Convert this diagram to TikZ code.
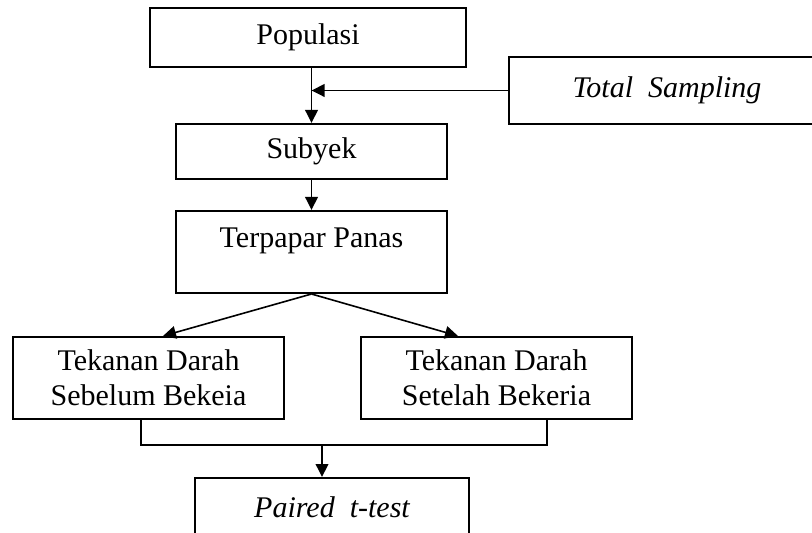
\documentclass[tikz,border=0pt]{standalone}
\usepackage{fontspec}
\setmainfont{Liberation Serif}
\usetikzlibrary{arrows.meta}
\usetikzlibrary{positioning}

\begin{document}
\begin{tikzpicture}[x=0.5pt,y=-0.5pt]
  \tikzset{box/.style = {shape=rectangle,draw,line width=1pt,inner sep=0pt,align=center,font=\fontsize{15}{17.5}\selectfont}}
  \tikzset{wbox/.style = {box,minimum width=135.5pt,minimum height=41pt}}
  \tikzset{%
  tipA/.tip={Triangle[length=6.5pt,width=6.3pt]},
}
  \tikzset{edge/.style = {-tipA,line width=0.8pt}}

  \useasboundingbox (0,0) rectangle (812,533);
  \clip (0,0) rectangle (812,533);

	\node[box,minimum width=158pt,minimum height=29.5pt] (Pop) at (308,37.5) {Populasi};
	\node[box,minimum width=158pt,minimum height=33.5pt] (TS) at (667,90.5) {\itshape Total\ \ Sampling};
	\node[box,minimum width=135.5pt,minimum height=27.5pt] (Sub) at (311.5,151.5) {Subyek};
	\node[wbox,text height=10pt,text depth=14pt] (TP) at (311.5,252) {Terpapar Panas};

	\node[wbox] (Pre) at (148.5,378) {Tekanan Darah\\Sebelum Bekeia};
	\node[wbox] (Post) at (496.5,378) {Tekanan Darah\\Setelah Bekeria};

	\node[box,minimum width=137pt,minimum height=29.5pt] (Pair) at (332,507.5) {\itshape Paired\ \ t-test};

	\coordinate (JL) at (141,445);
	\coordinate (JR) at (547,445);
	\coordinate (JM) at (322,445);

    \draw[edge] (Pop.south -| Sub.north) -- (Sub.north);
    \draw[edge] (TS.west) -- (TS.west -| Sub.north);

    \foreach \from/\to in {Sub/TP}
    \path[edge](\from) edge (\to);

    \draw[edge] (TP.south) -- ([xshift=7.25pt]Pre.north);
    \draw[edge] (TP.south) -- ([xshift=-19.25pt]Post.north);

    \draw[line width=0.8pt] (Pre.south -| JL) -- (JL) -- (JR) -- (Post.south -| JR);
    \draw[edge] (JM) -- (Pair.north -| JM);

\end{tikzpicture}
\end{document}
